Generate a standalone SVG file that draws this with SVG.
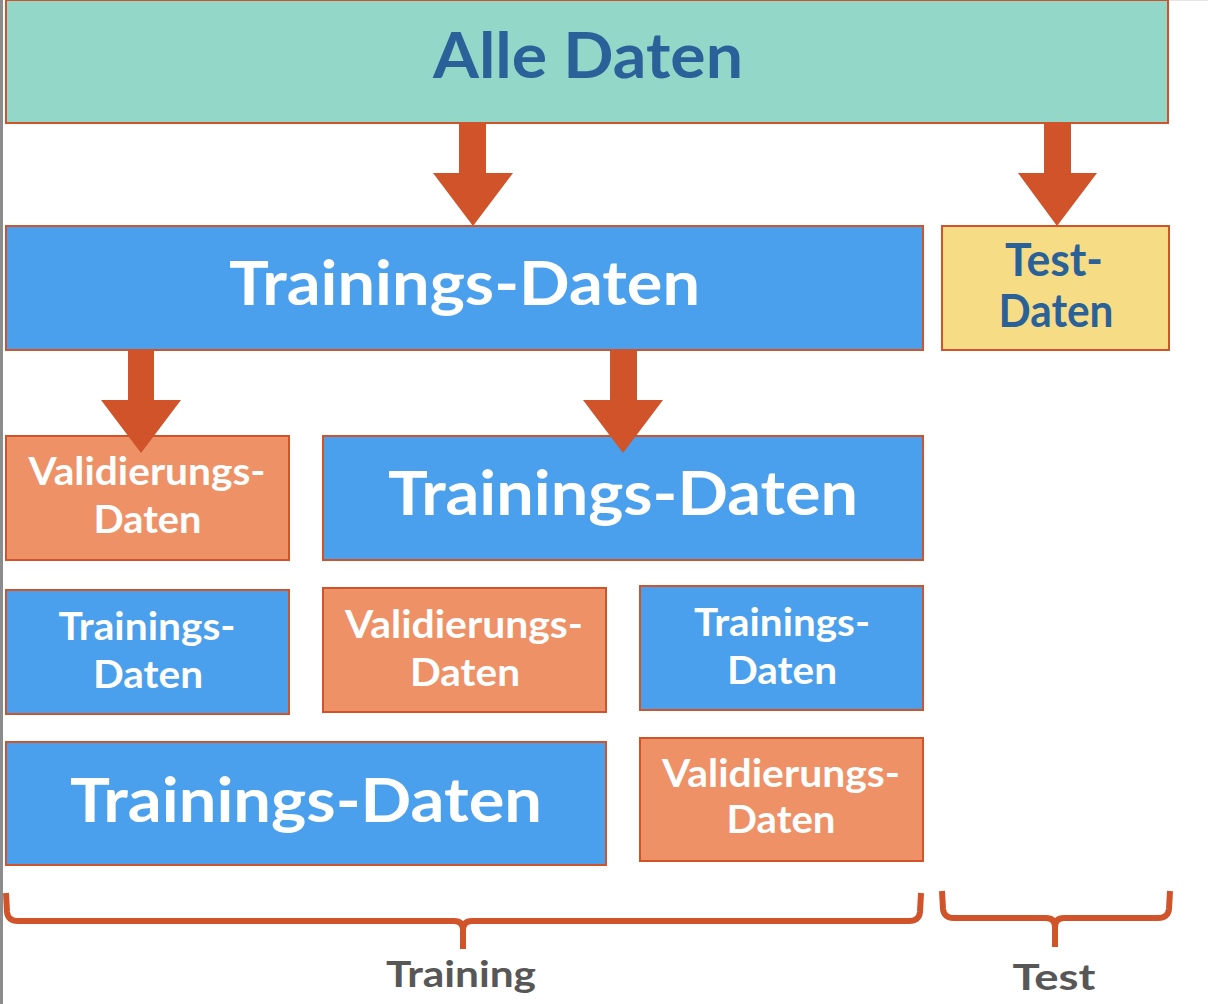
<svg xmlns="http://www.w3.org/2000/svg" width="1208" height="1004" viewBox="0 0 1208 1004">
  <style>
    .box { stroke: #d0532a; stroke-width: 2; }
    .all { fill: #93d7c9; }
    .train { fill: #4aa0ec; }
    .val { fill: #ee9166; }
    .test { fill: #f7dc86; }
    text { font-family: "Lato", "Open Sans", "Liberation Sans", sans-serif; font-weight: 700; text-anchor: middle; }
    .w { fill: #ffffff; }
    .b { fill: #2b6199; }
    .g { fill: #575757; }
    .arrow { fill: #d0532a; }
    .brace { fill: none; stroke: #d0532a; stroke-width: 6; stroke-linejoin: round; }
  </style>

  <rect x="0" y="0" width="1208" height="1004" fill="#ffffff"/>
  <!-- page edge -->
  <rect x="0" y="0" width="3" height="1004" fill="#8c8c8c"/>
  <rect x="1168" y="0" width="40" height="1" fill="#e6e6e6"/>

  <g id="alle-daten">
    <rect class="box all" x="6" y="0" width="1162" height="123"/>
    <text class="b" x="588" y="78" font-size="63" textLength="310" lengthAdjust="spacingAndGlyphs">Alle Daten</text>
  </g>

  <g id="trainings-daten">
    <rect class="box train" x="6" y="226" width="917" height="124"/>
    <text class="w" x="464.5" y="305" font-size="62" textLength="471" lengthAdjust="spacingAndGlyphs">Trainings-Daten</text>
  </g>

  <g id="test-daten">
    <rect class="box test" x="942" y="226" width="227" height="124"/>
    <text class="b" x="1054" y="276" font-size="45" textLength="98" lengthAdjust="spacingAndGlyphs">Test-</text>
    <text class="b" x="1056" y="327" font-size="45" textLength="115" lengthAdjust="spacingAndGlyphs">Daten</text>
  </g>

  <g id="fold1-validierung">
    <rect class="box val" x="6" y="436" width="283" height="124"/>
    <text class="w" x="147" y="485" font-size="39" textLength="237" lengthAdjust="spacingAndGlyphs">Validierungs-</text>
    <text class="w" x="147.5" y="533" font-size="39" textLength="108" lengthAdjust="spacingAndGlyphs">Daten</text>
  </g>

  <g id="fold1-training">
    <rect class="box train" x="323" y="436" width="600" height="124"/>
    <text class="w" x="623" y="515" font-size="62" textLength="470" lengthAdjust="spacingAndGlyphs">Trainings-Daten</text>
  </g>

  <g id="fold2-training-a">
    <rect class="box train" x="6" y="590" width="283" height="124"/>
    <text class="w" x="147" y="640" font-size="39" textLength="177" lengthAdjust="spacingAndGlyphs">Trainings-</text>
    <text class="w" x="148" y="688" font-size="39" textLength="110" lengthAdjust="spacingAndGlyphs">Daten</text>
  </g>

  <g id="fold2-validierung">
    <rect class="box val" x="323" y="588" width="283" height="124"/>
    <text class="w" x="464" y="638" font-size="39" textLength="238" lengthAdjust="spacingAndGlyphs">Validierungs-</text>
    <text class="w" x="465" y="686" font-size="39" textLength="110" lengthAdjust="spacingAndGlyphs">Daten</text>
  </g>

  <g id="fold2-training-b">
    <rect class="box train" x="640" y="586" width="283" height="124"/>
    <text class="w" x="782" y="636" font-size="39" textLength="176" lengthAdjust="spacingAndGlyphs">Trainings-</text>
    <text class="w" x="782" y="684" font-size="39" textLength="110" lengthAdjust="spacingAndGlyphs">Daten</text>
  </g>

  <g id="fold3-training">
    <rect class="box train" x="6" y="742" width="600" height="123"/>
    <text class="w" x="306" y="822" font-size="62" textLength="472" lengthAdjust="spacingAndGlyphs">Trainings-Daten</text>
  </g>

  <g id="fold3-validierung">
    <rect class="box val" x="640" y="738" width="283" height="123"/>
    <text class="w" x="781" y="787" font-size="39" textLength="238" lengthAdjust="spacingAndGlyphs">Validierungs-</text>
    <text class="w" x="781" y="833" font-size="39" textLength="109" lengthAdjust="spacingAndGlyphs">Daten</text>
  </g>

  <g id="training-label">
    <path class="brace" d="M6,893 L7,912 Q8,921 18,921 L454,921 Q463,921 463,930 L463,949 M463,930 Q463,921 472,921 L909,921 Q919,921 920,912 L921,893"/>
    <text class="g" x="461" y="987" font-size="37" textLength="150" lengthAdjust="spacingAndGlyphs">Training</text>
  </g>

  <g id="test-label">
    <path class="brace" d="M942,891 L943,909 Q944,918 954,918 L1046,918 Q1055,918 1055,927 L1055,947 M1055,927 Q1055,918 1064,918 L1158,918 Q1168,918 1169,909 L1170,891"/>
    <text class="g" x="1054" y="990" font-size="37" textLength="83" lengthAdjust="spacingAndGlyphs">Test</text>
  </g>

  <g id="connectors">
    <polygon class="arrow" points="459,123 486,123 486,173 513,173 473,226 433,173 459,173"/>
    <polygon class="arrow" points="1044,123 1071,123 1071,173 1097,173 1057,226 1018,173 1044,173"/>
    <polygon class="arrow" points="128,350 154,350 154,400 181,400 141,453 101,400 128,400"/>
    <polygon class="arrow" points="610,350 637,350 637,400 663,400 623,453 583,400 610,400"/>
  </g>
</svg>
